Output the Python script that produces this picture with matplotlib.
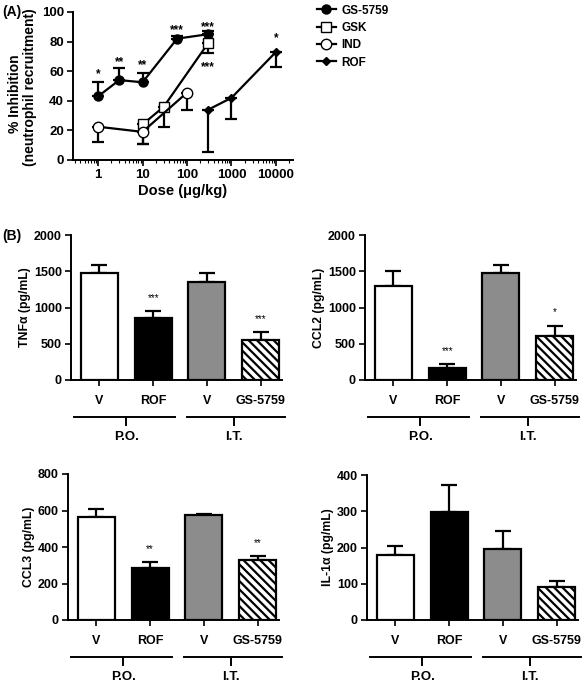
import numpy as np
import matplotlib
matplotlib.use("Agg")
import matplotlib.pyplot as plt
from matplotlib.lines import Line2D

plt.rcParams['font.family'] = ['Liberation Sans', 'DejaVu Sans']
plt.rcParams['font.weight'] = 'bold'
plt.rcParams['axes.labelweight'] = 'bold'
plt.rcParams['hatch.linewidth'] = 1.6

W, H = 587, 685

# ---- panel A data ----
gs_dose = [1, 3, 10, 60, 300]
gs_val = [43, 54, 52.5, 82, 85]
gs_up = [10, 8, 6.5, 2, 2]
gsk_dose = [10, 30, 300]
gsk_val = [24, 36, 79]
gsk_dn = [13, 14, 7]
ind_dose = [1, 10, 100]
ind_val = [22.5, 19, 45.5]
ind_dn = [10.5, 8.5, 12]
rof_dose = [300, 1000, 10000]
rof_val = [34, 42, 73]
rof_dn = [28.5, 14, 10]
a_stars = [(1, 58, '*'), (3, 66, '**'), (10, 64, '**'), (60, 88, '***'),
           (300, 90, '***'), (300, 63, '***'), (10000, 82, '*')]

# ---- panel B data ----
groups = ['V', 'ROF', 'V', 'GS-5759']
tnf = [1470, 850, 1350, 545]
tnf_err = [110, 100, 130, 115]
ccl2 = [1290, 170, 1480, 610]
ccl2_err = [220, 50, 110, 140]
ccl3 = [565, 285, 575, 330]
ccl3_err = [45, 33, 7, 20]
il1a = [178, 298, 197, 90]
il1a_err = [25, 74, 48, 18]


def pax(l, t, r, b):
    return fig.add_axes([l / W, 1 - b / H, (r - l) / W, (b - t) / H])


fig = plt.figure(figsize=(W / 100, H / 100), dpi=100)

# panel A
ax = pax(73, 12, 293, 160)
ax.set_xscale('log')
ax.set_xlim(0.273, 24200)
ax.set_ylim(0, 100)
lw = 1.6
ax.errorbar(gs_dose, gs_val, yerr=[np.zeros(5), gs_up], fmt='-o', color='black',
            mfc='black', ms=6.5, lw=lw, capsize=4, elinewidth=lw, capthick=lw)
ax.errorbar(gsk_dose, gsk_val, yerr=[gsk_dn, np.zeros(3)], fmt='-s', color='black',
            mfc='white', ms=7.5, lw=lw, capsize=4, elinewidth=lw, capthick=lw)
ax.errorbar(ind_dose, ind_val, yerr=[ind_dn, np.zeros(3)], fmt='-o', color='black',
            mfc='white', ms=7.5, lw=lw, capsize=4, elinewidth=lw, capthick=lw)
ax.errorbar(rof_dose, rof_val, yerr=[rof_dn, np.zeros(3)], fmt='-D', color='black',
            mfc='black', ms=4, lw=lw, capsize=4, elinewidth=lw, capthick=lw)
for x, y, s in a_stars:
    ax.text(x, y, s, ha='center', va='center', fontsize=8.5)
ax.set_xticks([1, 10, 100, 1000, 10000])
ax.set_xticklabels(['1', '10', '100', '1000', '10000'])
ax.set_yticks([0, 20, 40, 60, 80, 100])
ax.set_xlabel('Dose (μg/kg)', fontsize=10.5, labelpad=2)
# two-line y label, one text per line
fig.text(15 / W, 1 - 94 / H, '% Inhibition', rotation=90, fontsize=10,
         ha='center', va='center')
fig.text(30 / W, 1 - 87 / H, '(neutrophil recruitment)', rotation=90, fontsize=10,
         ha='center', va='center')
for sp in ['top', 'right']:
    ax.spines[sp].set_visible(False)
for sp in ['left', 'bottom']:
    ax.spines[sp].set_linewidth(1.4)
ax.tick_params(labelsize=9.5, width=1.2, length=4, pad=2.5)
ax.tick_params(which='minor', width=0.8, length=2.5)

handles = [
    Line2D([], [], color='black', marker='o', mfc='black', ms=6.5, lw=lw),
    Line2D([], [], color='black', marker='s', mfc='white', ms=7.5, lw=lw),
    Line2D([], [], color='black', marker='o', mfc='white', ms=7.5, lw=lw),
    Line2D([], [], color='black', marker='D', mfc='black', ms=4, lw=lw),
]
fig.legend(handles, ['GS-5759', 'GSK', 'IND', 'ROF'], loc='upper left',
           bbox_to_anchor=(306 / W, 1 - (-6) / H), frameon=False, fontsize=8.5,
           handlelength=1.6, handletextpad=0.5, labelspacing=0.45)

fig.text(2 / W, 1 - 12 / H, '(A)', fontsize=10, va='center')
fig.text(2 / W, 1 - 236 / H, '(B)', fontsize=10, va='center')


def bars(ax, vals, errs, ylim, yticks, ylabel, stars):
    x = np.arange(4)
    colors = ['white', 'black', '#8c8c8c', 'white']
    b = ax.bar(x, vals, width=0.69, color=colors, edgecolor='black', linewidth=1.6,
               zorder=2)
    b[3].set_hatch('\\\\\\\\')
    ax.errorbar(x, vals, yerr=[np.zeros(4), errs], fmt='none', ecolor='black',
                elinewidth=1.6, capsize=6, capthick=1.6, zorder=1)
    for i, s in stars:
        ax.text(i, vals[i] + errs[i] + ylim * 0.09, s, ha='center', va='center',
                fontsize=7, fontweight='normal')
    ax.set_xlim(-0.53, 3.4)
    ax.set_ylim(0, ylim)
    ax.set_yticks(yticks)
    ax.set_xticks(x)
    ax.set_xticklabels(groups)
    ax.set_ylabel(ylabel, fontsize=8.8, labelpad=2)
    for sp in ['top', 'right']:
        ax.spines[sp].set_visible(False)
    for sp in ['left', 'bottom']:
        ax.spines[sp].set_linewidth(1.4)
    ax.tick_params(labelsize=9, width=1.2, length=4, pad=2.5)
    ax.tick_params(axis='x', pad=7)
    h = ax.get_position().height * H
    tr = ax.get_xaxis_transform()
    for (x0, x1), c, name in [((-0.47, 1.4), 0.5, 'P.O.'), ((1.63, 3.45), 2.5, 'I.T.')]:
        ax.plot([x0, x1], [-37 / h, -37 / h], color='black', lw=1.4,
                transform=tr, clip_on=False)
        ax.plot([c, c], [-37 / h, -45 / h], color='black', lw=1.4,
                transform=tr, clip_on=False)
        ax.text(c, -57 / h, name, ha='center', va='center', fontsize=9.5,
                transform=tr)


ax1 = pax(71, 235, 282, 380)
bars(ax1, tnf, tnf_err, 2000, [0, 500, 1000, 1500, 2000], 'TNFα (pg/mL)',
     [(1, '***'), (3, '***')])
ax2 = pax(365, 235, 576, 380)
bars(ax2, ccl2, ccl2_err, 2000, [0, 500, 1000, 1500, 2000], 'CCL2 (pg/mL)',
     [(1, '***'), (3, '*')])
ax3 = pax(68, 474, 279, 620)
bars(ax3, ccl3, ccl3_err, 800, [0, 200, 400, 600, 800], 'CCL3 (pg/mL)',
     [(1, '**'), (3, '**')])
ax4 = pax(367, 475, 578, 620)
bars(ax4, il1a, il1a_err, 400, [0, 100, 200, 300, 400], 'IL-1α (pg/mL)', [])

fig.savefig('out.png', dpi=100)
